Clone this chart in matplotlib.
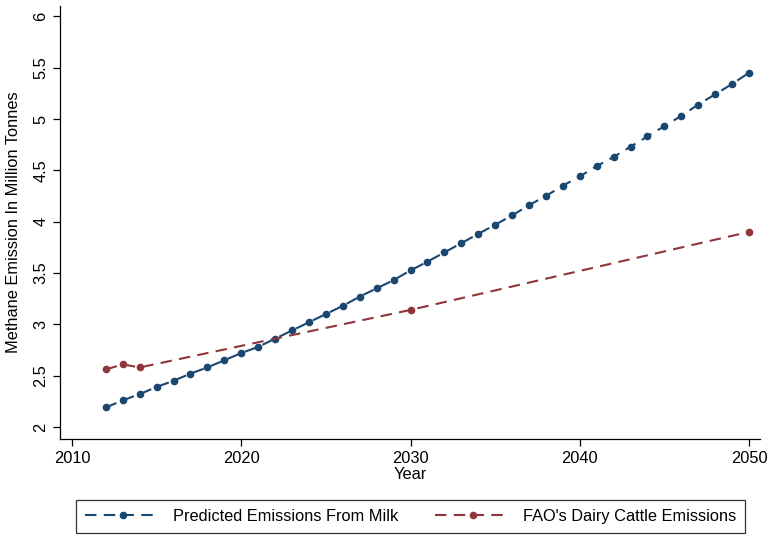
import matplotlib
matplotlib.use("Agg")
import matplotlib.pyplot as plt

plt.rcParams['font.family'] = ['Liberation Sans', 'DejaVu Sans']

# Predicted emissions from milk, 2012-2050
milk_years = list(range(2012, 2051))
milk_values = [2.19, 2.26, 2.32, 2.39, 2.45, 2.52, 2.58, 2.65, 2.72, 2.78,
               2.86, 2.94, 3.02, 3.10, 3.18, 3.27, 3.35, 3.43, 3.525, 3.61,
               3.70, 3.79, 3.88, 3.97, 4.06, 4.16, 4.25, 4.35, 4.44, 4.54,
               4.63, 4.73, 4.83, 4.93, 5.03, 5.14, 5.24, 5.34, 5.45]

# FAO dairy cattle emissions
fao_years = [2012, 2013, 2014, 2030, 2050]
fao_values = [2.56, 2.61, 2.58, 3.14, 3.90]

x_ticks = [2010, 2020, 2030, 2040, 2050]
y_ticks = [2, 2.5, 3, 3.5, 4, 4.5, 5, 5.5, 6]

navy = '#1a476f'
maroon = '#90353b'
fs = 11.8

fig = plt.figure(figsize=(7.68, 5.36), dpi=100)
ax = fig.add_axes([60 / 768, (536 - 439) / 536, 700 / 768, (439 - 6) / 536])

ax.plot(milk_years, milk_values, color=navy, linestyle=(0, (5.5, 3.5)), linewidth=1.5,
        marker='o', markersize=4.5, label='Predicted Emissions From Milk')
ax.plot(fao_years, fao_values, color=maroon, linestyle=(0, (5.5, 3.5)), linewidth=1.5,
        marker='o', markersize=4.5, label="FAO's Dairy Cattle Emissions")

ax.set_xlim(2009.29, 2050.65)
ax.set_ylim(1.883, 6.1)
ax.set_xticks(x_ticks)
ax.set_yticks(y_ticks)
ax.set_yticklabels([f'{v:g}' for v in y_ticks], rotation=90, va='center')
ax.tick_params(axis='both', direction='out', length=5, width=0.9, labelsize=fs, colors='black')

ax.spines['top'].set_visible(False)
ax.spines['right'].set_visible(False)
ax.spines['left'].set_linewidth(0.9)
ax.spines['bottom'].set_linewidth(0.9)

ax.set_xlabel('Year', fontsize=fs, labelpad=1)
ax.set_ylabel('Methane Emission In Million Tonnes', fontsize=fs, labelpad=9)

leg = fig.legend(loc='lower left', bbox_to_anchor=(76 / 768, 3 / 536, 669 / 768, 37 / 536),
                 mode='expand', ncol=2, fontsize=fs,
                 frameon=True, fancybox=False, edgecolor='black', numpoints=1,
                 handlelength=4.6, columnspacing=2.0, borderpad=0.55, handletextpad=0.75,
                 borderaxespad=0)
leg.get_frame().set_linewidth(0.9)

fig.savefig('out.png', dpi=100)
